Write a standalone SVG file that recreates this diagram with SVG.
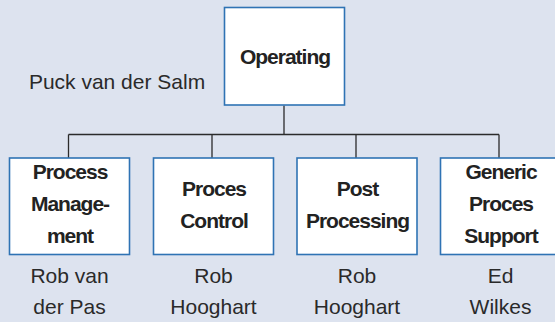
<svg xmlns="http://www.w3.org/2000/svg" width="555" height="322" viewBox="0 0 555 322">
<style>
.box{fill:#ffffff;stroke:#2f73b4;stroke-width:1.6}
.ln{fill:none;stroke:#2b2b2b;stroke-width:1.3}
.b{font-family:"Liberation Sans",Arial,sans-serif;font-weight:bold;font-size:21px;letter-spacing:-1px;fill:#222;text-anchor:middle}
.r{font-family:"Liberation Sans",Arial,sans-serif;font-size:21px;fill:#2a2a2a;text-anchor:middle}
</style>
<rect x="0" y="0" width="555" height="322" fill="#dde3ef"/>
<g id="connectors">
<path class="ln" d="M284 105.5V134.5M68.5 134.5H499M68.5 134.5V158M212 134.5V158M356 134.5V158M499 134.5V158"/>
</g>
<g id="operating">
<rect class="box" x="224.5" y="7.5" width="120" height="97.5"/>
<text class="b" x="285" y="64">Operating</text>
</g>
<text class="r" x="117" y="89">Puck van der Salm</text>
<g id="process-management">
<rect class="box" x="9.5" y="158" width="120" height="96.5"/>
<text class="b" x="70" y="179">Process</text>
<text class="b" x="70" y="211">Manage-</text>
<text class="b" x="70" y="243">ment</text>
<text class="r" x="69.5" y="283">Rob van</text>
<text class="r" x="69.5" y="314">der Pas</text>
</g>
<g id="proces-control">
<rect class="box" x="153.5" y="158" width="120" height="96.5"/>
<text class="b" x="214" y="196">Proces</text>
<text class="b" x="214" y="228">Control</text>
<text class="r" x="213.5" y="283">Rob</text>
<text class="r" x="213.5" y="314">Hooghart</text>
</g>
<g id="post-processing">
<rect class="box" x="297" y="158" width="120" height="96.5"/>
<text class="b" x="357.5" y="196">Post</text>
<text class="b" x="357.5" y="228">Processing</text>
<text class="r" x="357" y="283">Rob</text>
<text class="r" x="357" y="314">Hooghart</text>
</g>
<g id="generic-proces-support">
<rect class="box" x="440.5" y="158" width="120" height="96.5"/>
<text class="b" x="501" y="179">Generic</text>
<text class="b" x="501" y="211">Proces</text>
<text class="b" x="501" y="243">Support</text>
<text class="r" x="500.5" y="283">Ed</text>
<text class="r" x="500.5" y="314">Wilkes</text>
</g>
</svg>
